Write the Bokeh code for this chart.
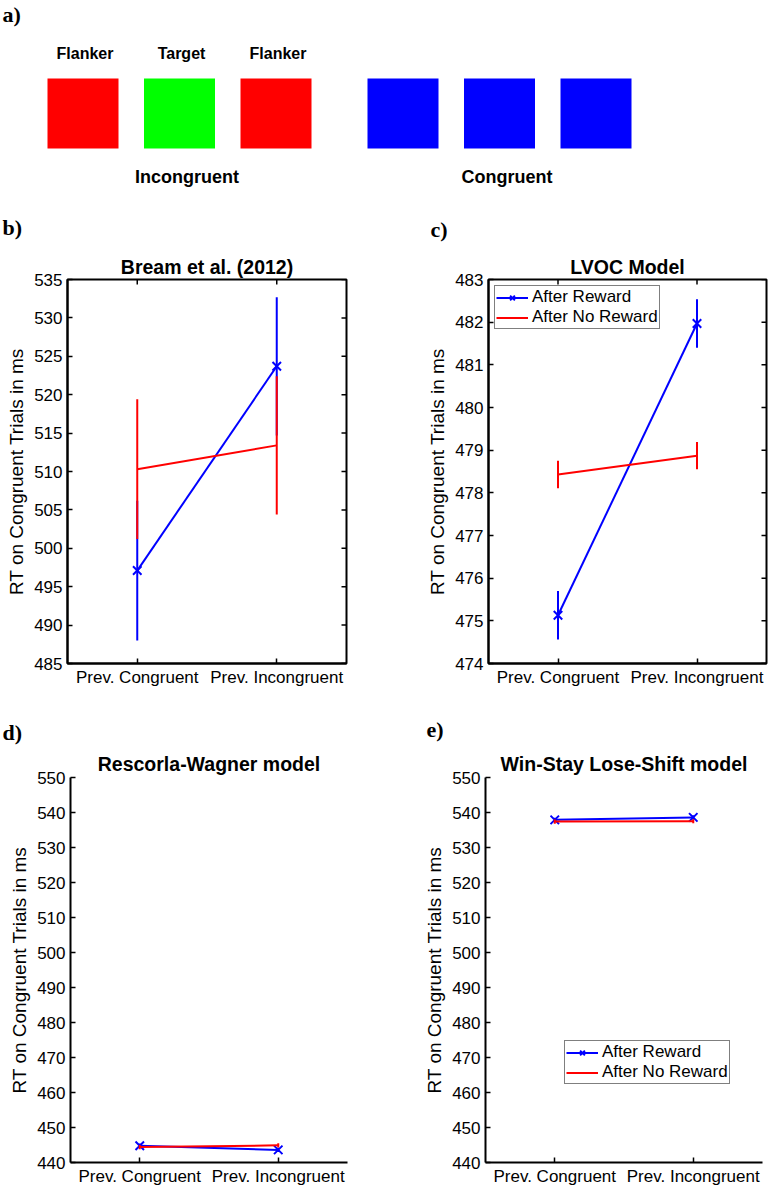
import math
from bokeh.plotting import figure
from bokeh.models import (ColumnDataSource, Range1d, FactorRange, FixedTicker,
                          Title, Legend, LegendItem)
from bokeh.layouts import column, row
from bokeh.embed import file_html
from bokeh.resources import INLINE
from bokeh.core.properties import value

SANS = "Liberation Sans"
SERIF = "Liberation Serif"
BLUE = "#0000ff"
RED = "#ff0000"

# ---------------- data ----------------
conditions = ["Prev. Congruent", "Prev. Incongruent"]
series_names = ["After Reward", "After No Reward"]

# b) Bream et al. (2012)
bream_reward = [497.1, 523.7]
bream_reward_err = [9.1, 9.0]
bream_noreward = [510.3, 513.4]
bream_noreward_err = [9.1, 9.0]

# c) LVOC model
lvoc_reward = [475.13, 481.97]
lvoc_reward_err = [0.57, 0.57]
lvoc_noreward = [478.43, 478.87]
lvoc_noreward_err = [0.32, 0.32]

# d) Rescorla-Wagner model
rw_reward = [444.8, 443.6]
rw_reward_err = [0.6, 0.6]
rw_noreward = [444.4, 444.9]
rw_noreward_err = [0.6, 0.6]

# e) Win-Stay Lose-Shift model
wsls_reward = [537.9, 538.6]
wsls_reward_err = [0.6, 0.6]
wsls_noreward = [537.4, 537.5]
wsls_noreward_err = [0.6, 0.6]

ticks_bream = [485, 490, 495, 500, 505, 510, 515, 520, 525, 530, 535]
ticks_lvoc = [474, 475, 476, 477, 478, 479, 480, 481, 482, 483]
ticks_models = [440, 450, 460, 470, 480, 490, 500, 510, 520, 530, 540, 550]

# a) stimulus illustration
stim_labels = ["Flanker", "Target", "Flanker"]
incongruent_colors = ["#ff0000", "#00ff00", "#ff0000"]
congruent_colors = ["#0000ff", "#0000ff", "#0000ff"]
trial_types = ["Incongruent", "Congruent"]


def lohi(means, errs):
    return ([m - e for m, e in zip(means, errs)], [m + e for m, e in zip(means, errs)])


def style_axis(ax):
    ax.axis_line_color = "black"
    ax.axis_line_width = 2
    ax.major_tick_in = 5
    ax.major_tick_out = 0
    ax.major_tick_line_color = "black"
    ax.major_tick_line_width = 1.5
    ax.minor_tick_line_color = None
    ax.major_label_text_font = SANS
    ax.major_label_text_font_size = "17px"
    ax.major_label_text_color = "black"


def make_panel(letter, title, reward, reward_err, noreward, noreward_err,
               y_start, y_end, y_ticks, border_left, frame_w, border_top, frame_h,
               border_bottom, box, letter_offset, letter_standoff, title_standoff,
               legend_location=None):
    width = 386
    p = figure(width=width, height=border_top + frame_h + border_bottom,
               x_range=FactorRange(factors=conditions, range_padding=0),
               y_range=Range1d(y_start, y_end),
               output_backend="svg", toolbar_location=None, title_location=None,
               min_border_left=border_left, min_border_right=width - border_left - frame_w,
               min_border_top=border_top, min_border_bottom=border_bottom,
               background_fill_color="white", border_fill_color="white")
    p.xgrid.visible = False
    p.ygrid.visible = False

    xa = p.xaxis[0]
    ya = p.yaxis[0]
    style_axis(xa)
    style_axis(ya)
    xa.major_label_standoff = 4
    ya.major_label_standoff = 5
    ya.ticker = FixedTicker(ticks=y_ticks)
    ya.axis_label = "RT on Congruent Trials in ms"
    ya.axis_label_text_font = SANS
    ya.axis_label_text_font_size = "19px"
    ya.axis_label_text_font_style = "normal"
    ya.axis_label_text_color = "black"
    ya.axis_label_standoff = 4

    if box:
        p.outline_line_color = "black"
        p.outline_line_width = 2
        # inward tick marks on the right and top edges of the box
        p.scatter(x=[2.0] * len(y_ticks), y=y_ticks, marker="dash", size=10,
                  line_color="black", line_width=1.5)
        p.scatter(x=conditions, y=[y_end] * len(conditions), marker="dash",
                  angle=math.pi / 2, size=10, line_color="black", line_width=1.5)
    else:
        p.outline_line_color = None

    rlo, rhi = lohi(reward, reward_err)
    nlo, nhi = lohi(noreward, noreward_err)
    src_r = ColumnDataSource(dict(x=conditions, y=reward, lo=rlo, hi=rhi))
    src_n = ColumnDataSource(dict(x=conditions, y=noreward, lo=nlo, hi=nhi))

    p.segment(x0="x", y0="lo", x1="x", y1="hi", source=src_r, line_color=BLUE, line_width=2)
    r_line = p.line("x", "y", source=src_r, line_color=BLUE, line_width=2)
    r_mark = p.scatter("x", "y", source=src_r, marker="x", size=12,
                       line_color=BLUE, line_width=2)
    p.segment(x0="x", y0="lo", x1="x", y1="hi", source=src_n, line_color=RED, line_width=2)
    n_line = p.line("x", "y", source=src_n, line_color=RED, line_width=2)

    if legend_location is not None:
        legend = Legend(items=[LegendItem(label=series_names[0], renderers=[r_line, r_mark]),
                               LegendItem(label=series_names[1], renderers=[n_line])],
                        location=legend_location, margin=6, padding=1, spacing=0,
                        glyph_width=32, glyph_height=17, label_height=17, label_standoff=4,
                        label_text_font=SANS, label_text_font_size="17px",
                        label_text_color="black",
                        border_line_color="black", border_line_width=1.5,
                        background_fill_color="white", background_fill_alpha=1.0)
        p.add_layout(legend)

    # first added sits closest to the frame
    p.add_layout(Title(text=title, align="center", standoff=title_standoff,
                       text_font=SANS, text_font_style="bold", text_font_size="19.5px",
                       text_color="black"), "above")
    p.add_layout(Title(text=letter, align="left", offset=letter_offset,
                       standoff=letter_standoff, text_font=SERIF, text_font_style="bold",
                       text_font_size="22px", text_color="black"), "above")
    return p


# ---------------- panel a ----------------
pa = figure(width=772, height=195, x_range=Range1d(0, 772), y_range=Range1d(195, 0),
            output_backend="svg", toolbar_location=None, min_border=0,
            x_axis_type=None, y_axis_type=None)
pa.outline_line_color = None
pa.grid.visible = False

GROUP_X0 = [82.5, 402.5]
STEP = 96.5
sq_x, sq_c = [], []
for g, cols in enumerate([incongruent_colors, congruent_colors]):
    for i, c in enumerate(cols):
        sq_x.append(GROUP_X0[g] + i * STEP)
        sq_c.append(c)
pa.rect(x=sq_x, y=[113] * len(sq_x), width=71, height=70, fill_color=sq_c, line_color=None)
pa.text(x=[sx + 2 for sx in sq_x[:3]], y=[53] * 3, text=stim_labels,
        text_font=value(SANS), text_font_style="bold", text_font_size="16px",
        text_align="center", text_baseline="middle", text_color="black")
pa.text(x=[g0 + STEP + 7.5 for g0 in GROUP_X0], y=[176, 176], text=trial_types,
        text_font=value(SANS), text_font_style="bold", text_font_size="18px",
        text_align="center", text_baseline="middle", text_color="black")
pa.text(x=[2], y=[14], text=["a)"], text_font=value(SERIF), text_font_style="bold",
        text_font_size="22px", text_align="left", text_baseline="middle", text_color="black")

# ---------------- panels b-e ----------------
pb = make_panel("b)", "Bream et al. (2012)", bream_reward, bream_reward_err,
                bream_noreward, bream_noreward_err, 485, 535, ticks_bream,
                border_left=67, frame_w=279, border_top=84, frame_h=384, border_bottom=37,
                box=True, letter_offset=-65, letter_standoff=26, title_standoff=3)
pc = make_panel("c)", "LVOC Model", lvoc_reward, lvoc_reward_err,
                lvoc_noreward, lvoc_noreward_err, 474, 483, ticks_lvoc,
                border_left=102, frame_w=278, border_top=84, frame_h=384, border_bottom=37,
                box=True, letter_offset=-58, letter_standoff=21, title_standoff=3,
                legend_location="top_left")
pd_ = make_panel("d)", "Rescorla-Wagner model", rw_reward, rw_reward_err,
                 rw_noreward, rw_noreward_err, 440, 550, ticks_models,
                 border_left=70, frame_w=277, border_top=77, frame_h=386, border_bottom=25,
                 box=False, letter_offset=-68, letter_standoff=8, title_standoff=5)
pe = make_panel("e)", "Win-Stay Lose-Shift model", wsls_reward, wsls_reward_err,
                wsls_noreward, wsls_noreward_err, 440, 550, ticks_models,
                border_left=99, frame_w=277, border_top=77, frame_h=386, border_bottom=25,
                box=False, letter_offset=-59, letter_standoff=14, title_standoff=5,
                legend_location=(79, 78))

layout = column(pa, row(pb, pc), row(pd_, pe))
open("out.html", "w").write(file_html(layout, INLINE))
